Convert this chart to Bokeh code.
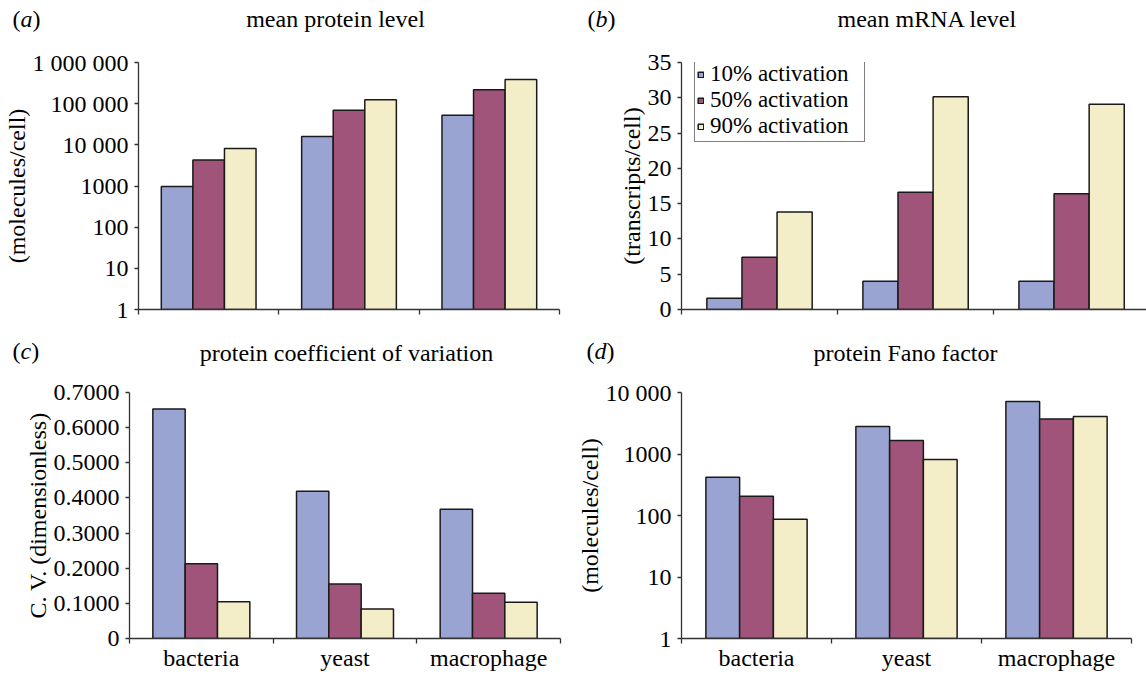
from bokeh.plotting import figure
from bokeh.models import Range1d, FixedTicker, Label
from bokeh.layouts import column, row
from bokeh.embed import file_html
from bokeh.resources import INLINE

# ---------------- data ----------------
categories = ["bacteria", "yeast", "macrophage"]
series = ["10% activation", "50% activation", "90% activation"]

protein_10 = [970, 15900, 52500]
protein_50 = [4300, 69500, 217000]
protein_90 = [8200, 124000, 387000]

mrna_10 = [1.6, 4.0, 4.0]
mrna_50 = [7.4, 16.6, 16.4]
mrna_90 = [13.8, 30.15, 29.1]

cv_10 = [0.653, 0.419, 0.368]
cv_50 = [0.213, 0.155, 0.129]
cv_90 = [0.1045, 0.0836, 0.1035]

fano_10 = [418, 2795, 7135]
fano_50 = [205, 1653, 3725]
fano_90 = [87, 811, 4066]

protein_ticks = [1, 10, 100, 1000, 10000, 100000, 1000000]
protein_tick_labels = ["1", "10", "100", "1000", "10 000", "100 000", "1 000 000"]
mrna_ticks = [0, 5, 10, 15, 20, 25, 30, 35]
mrna_tick_labels = ["0", "5", "10", "15", "20", "25", "30", "35"]
cv_ticks = [0, 0.1, 0.2, 0.3, 0.4, 0.5, 0.6, 0.7]
cv_tick_labels = ["0", "0.1000", "0.2000", "0.3000", "0.4000", "0.5000", "0.6000", "0.7000"]
fano_ticks = [1, 10, 100, 1000, 10000]
fano_tick_labels = ["1", "10", "100", "1000", "10 000"]

# ---------------- style ----------------
FONT = "Liberation Serif"
FS = "24px"
LEG_FS = "23px"
COLORS = ["#9AA4D3", "#A05479", "#F3EDC8"]
BAR_W = 0.225
AX = "#333333"
TITLE_H = 40


def title_fig(width, title, title_cx, title_cy, letter, letter_w, letter_x, letter_cy):
    t = figure(width=width, height=TITLE_H, output_backend="svg", toolbar_location=None,
               x_range=Range1d(0, width), y_range=Range1d(0, TITLE_H), min_border=0)
    t.axis.visible = False
    t.grid.visible = False
    t.outline_line_color = None
    common = dict(text_font=FONT, text_font_size=FS, text_color="black",
                  text_baseline="middle")
    t.add_layout(Label(x=title_cx, y=TITLE_H - title_cy, text=title, text_align="center", **common))
    ly = TITLE_H - letter_cy
    t.add_layout(Label(x=letter_x, y=ly, text="(", text_align="left", **common))
    t.add_layout(Label(x=letter_x + 8.0, y=ly, text=letter, text_align="left",
                       text_font_style="italic", **common))
    t.add_layout(Label(x=letter_x + 8.0 + letter_w, y=ly, text=")", text_align="left", **common))
    return t


def panel(width, height, borders, xend, ylo, yhi, log, ticks, tick_labels, ylabel,
          show_cats, vals, legend=False):
    L, R, T, B = borders
    p = figure(width=width, height=height, output_backend="svg", toolbar_location=None,
               x_range=Range1d(0, xend), y_range=Range1d(ylo, yhi),
               y_axis_type="log" if log else "linear",
               min_border_left=L, min_border_right=R, min_border_top=T, min_border_bottom=B)
    p.outline_line_color = None
    p.grid.visible = False

    base = ylo
    for i, v in enumerate(vals):
        xs = [k + 0.5 + (i - 1) * BAR_W for k in range(len(categories))]
        kw = dict(legend_label=series[i]) if legend else {}
        p.vbar(x=xs, top=v, bottom=base, width=BAR_W, fill_color=COLORS[i],
               line_color="#1a1a1a", line_width=1.5, **kw)

    # x axis: labels at centres, ticks at boundaries
    xa = p.xaxis[0]
    xa.ticker = FixedTicker(ticks=[k + 0.5 for k in range(len(categories))],
                            minor_ticks=list(range(len(categories) + 1)))
    xa.major_label_overrides = {k + 0.5: (c if show_cats else "") for k, c in enumerate(categories)}
    xa.major_tick_line_color = None
    xa.minor_tick_in = 0
    xa.minor_tick_out = 5
    xa.minor_tick_line_color = AX
    xa.minor_tick_line_width = 1.3
    xa.axis_line_color = AX
    xa.axis_line_width = 1.3
    xa.major_label_text_font = FONT
    xa.major_label_text_font_size = FS
    xa.major_label_text_color = "black"
    xa.major_label_standoff = 0

    ya = p.yaxis[0]
    ya.ticker = FixedTicker(ticks=ticks, minor_ticks=[])
    ya.major_label_overrides = {t: s for t, s in zip(ticks, tick_labels)}
    ya.major_tick_in = 0
    ya.major_tick_out = 4
    ya.major_tick_line_color = AX
    ya.major_tick_line_width = 1.3
    ya.minor_tick_line_color = None
    ya.axis_line_color = AX
    ya.axis_line_width = 1.3
    ya.major_label_text_font = FONT
    ya.major_label_text_font_size = FS
    ya.major_label_text_color = "black"
    ya.major_label_standoff = 6
    ya.axis_label = ylabel
    ya.axis_label_text_font = FONT
    ya.axis_label_text_font_size = FS
    ya.axis_label_text_font_style = "normal"
    ya.axis_label_text_color = "black"
    ya.axis_label_standoff = 0

    if legend:
        fh = height - T - B
        lg = p.legend[0]
        lg.location = (13, fh - 80)
        lg.border_line_color = "black"
        lg.border_line_width = 1.5
        lg.background_fill_color = "white"
        lg.background_fill_alpha = 1
        lg.label_text_font = FONT
        lg.label_text_font_size = LEG_FS
        lg.label_text_line_height = 1.0
        lg.label_text_color = "black"
        lg.glyph_width = 7
        lg.glyph_height = 7
        lg.label_standoff = 6
        lg.label_width = 152
        lg.padding = 2
        lg.spacing = 0
        lg.label_height = 24
        lg.margin = 0
    return p


ta = title_fig(573, "mean protein level", 335, 18, "a", 12, 12, 18)
tb = title_fig(573, "mean mRNA level", 354, 18, "b", 12, 14, 18)
tc = title_fig(573, "protein coefficient of variation", 346, 22, "c", 10.7, 12, 20)
td = title_fig(573, "protein Fano factor", 332, 22, "d", 12, 13, 20)

pa = panel(573, 330 - TITLE_H, (130, 14, 62 - TITLE_H, 21), 3, 1, 1e6, True,
           protein_ticks, protein_tick_labels, "(molecules/cell)", False,
           [protein_10, protein_50, protein_90])
pb = panel(573, 330 - TITLE_H, (108, 0, 62 - TITLE_H, 21), 2.98, 0, 35, False,
           mrna_ticks, mrna_tick_labels, "(transcripts/cell)", False,
           [mrna_10, mrna_50, mrna_90], legend=True)
pc = panel(573, 346 - TITLE_H, (129, 13, 62 - TITLE_H, 38), 3, 0, 0.7, False,
           cv_ticks, cv_tick_labels, "C. V. (dimensionless)", True,
           [cv_10, cv_50, cv_90])
pd_ = panel(573, 346 - TITLE_H, (108, 15, 62 - TITLE_H, 38), 3, 1, 1e4, True,
            fano_ticks, fano_tick_labels, "(molecules/cell)", True,
            [fano_10, fano_50, fano_90])

layout = column(row(ta, tb), row(pa, pb), row(tc, td), row(pc, pd_))
open("out.html", "w").write(file_html(layout, INLINE))
